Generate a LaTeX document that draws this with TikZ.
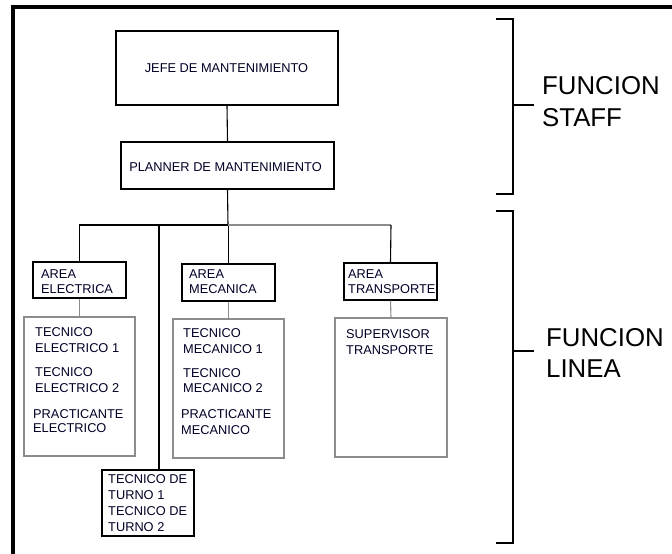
\documentclass[tikz,border=0pt]{standalone}
\usepackage{fontspec}
\setmainfont{Liberation Sans}
\begin{document}
\begin{tikzpicture}[x=1pt,y=-1pt,
  box/.style={draw=black,line width=1.1pt,inner sep=0pt,minimum width=#1},
  gbox/.style={draw=black!45,line width=1.1pt,inner sep=0pt},
  txt/.style={inner sep=0pt,anchor=base west,font=\fontsize{12.8}{15}\selectfont,text=black!85!blue},
  ctxt/.style={inner sep=0pt,anchor=base,font=\fontsize{12.8}{15}\selectfont,text=black!85!blue},
  big/.style={inner sep=0pt,anchor=base west,font=\fontsize{25.8}{30}\selectfont,text=black},
  con/.style={line width=1.1pt,draw=black},
  gcon/.style={line width=1.1pt,draw=black!45},
  brk/.style={line width=1.2pt,draw=black}]
\useasboundingbox (0,0) rectangle (672,554);
% outer frame
\draw[line width=4pt] (13,560) -- (13,7) -- (680,7);
% boxes
\node[box=222pt,minimum height=74pt] (jefe) at (227,68) {};
\node[box=213pt,minimum height=47pt] (planner) at (227.5,165.5) {};
\node[box=93pt,minimum height=36pt] (ae) at (79.5,280) {};
\node[box=93pt,minimum height=37pt] (am) at (228.5,282.5) {};
\node[box=93pt,minimum height=37pt] (at) at (390.5,281.5) {};
\node[gbox,minimum width=111pt,minimum height=139pt] (te) at (79.5,386.5) {};
\node[gbox,minimum width=111pt,minimum height=139pt] (tm) at (228.5,388.5) {};
\node[gbox,minimum width=112pt,minimum height=139pt] (sv) at (391,387.5) {};
\node[box=92pt,minimum height=66pt] (tt) at (148,503) {};
% texts
\node[ctxt] (tjefe) at (226.5,72.7) {JEFE DE MANTENIMIENTO};
\node[ctxt] (tplanner) at (225.5,171.7) {PLANNER DE MANTENIMIENTO};
\node[txt] (tae1) at (41,278) {AREA};
\node[txt] (tae2) at (41,293) {ELECTRICA};
\node[txt] (tam1) at (189,278) {AREA};
\node[txt] (tam2) at (189,293) {MECANICA};
\node[txt] (tat1) at (348,278) {AREA};
\node[txt] (tat2) at (348,293) {TRANSPORTE};
\node[txt] (te1) at (35,336) {TECNICO};
\node[txt] (te2) at (35,352) {ELECTRICO 1};
\node[txt] (te3) at (35,376) {TECNICO};
\node[txt] (te4) at (35,392) {ELECTRICO 2};
\node[txt] (te5) at (33,418) {PRACTICANTE};
\node[txt] (te6) at (33,432) {ELECTRICO};
\node[txt] (tm1) at (183,337) {TECNICO};
\node[txt] (tm2) at (183,353) {MECANICO 1};
\node[txt] (tm3) at (183,377) {TECNICO};
\node[txt] (tm4) at (183,392) {MECANICO 2};
\node[txt] (tm5) at (181,418) {PRACTICANTE};
\node[txt] (tm6) at (181,434) {MECANICO};
\node[txt] (sv1) at (346,338) {SUPERVISOR};
\node[txt] (sv2) at (346,354) {TRANSPORTE};
\node[txt] (tt1) at (108,483) {TECNICO DE};
\node[txt] (tt2) at (108,499) {TURNO 1};
\node[txt] (tt3) at (108,515) {TECNICO DE};
\node[txt] (tt4) at (108,531) {TURNO 2};
\node[big] (fs1) at (542,94.3) {FUNCION};
\node[big] (fs2) at (542,126.7) {STAFF};
\node[big] (fl1) at (546,346) {FUNCION};
\node[big] (fl2) at (546,377) {LINEA};
% connectors
\coordinate (bus) at (228,225);
\coordinate (busR) at (391,225);
\draw[con] (jefe.south) -- (planner.north);
\draw[con] (planner.south) -- (bus);
\draw[con] (ae.north) |- (bus);
\draw[con] (tt.north -| 159,0) -- (159,225);
\draw[con] (am.north) -- (am.north |- bus);
\draw[gcon] (bus) -- (busR);
\draw[con] (at.north) -- (busR);
\draw[gcon] (ae.south) -- (te.north);
\draw[gcon] (am.south) -- (tm.north);
\draw[gcon] (at.south) -- (sv.north);
% brackets
\coordinate (s1) at (496,19);
\coordinate (s2) at (496,194);
\coordinate (l1) at (496,211);
\coordinate (l2) at (496,543);
\draw[brk] (s1) -- ++(17,0) -- (513,194) -- (s2);
\draw[brk] (513,105) -- (534,105);
\draw[brk] (l1) -- ++(17,0) -- (513,543) -- (l2);
\draw[brk] (513,351) -- (534,351);
\end{tikzpicture}
\end{document}
